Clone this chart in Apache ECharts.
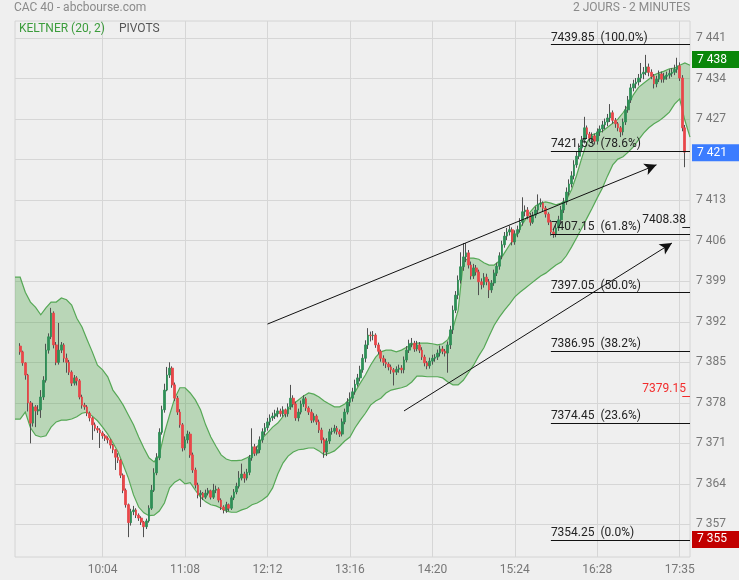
<!DOCTYPE html>
<html>
<head>
<meta charset="utf-8">
<title>CAC 40 - abcbourse.com</title>
<script src="https://cdn.jsdelivr.net/npm/echarts@6/dist/echarts.min.js"></script>
<style>
    html, body { margin: 0; padding: 0; background: #efefef; }
    #chart { width: 739px; height: 580px; }
</style>
</head>
<body>
<div id="chart"></div>
<script>
// Bougies 2 minutes de la séance, à partir de 9:00 (ouverture = clôture précédente)
const firstOpen = 7387.8;
const closes = [
    7386.8, 7384.9, 7382.8, 7378.0, 7374.5, 7377.3, 7376.6, 7376.8, 7379.0, 7381.9,
    7387.1, 7389.4, 7393.5, 7388.0, 7385.0, 7387.1, 7388.0, 7385.7, 7385.0, 7383.3,
    7381.4, 7382.3, 7381.8, 7379.0, 7377.6, 7377.3, 7376.2, 7375.4, 7374.2, 7373.6,
    7373.3, 7372.8, 7372.3, 7371.9, 7371.6, 7370.7, 7369.9, 7368.6, 7368.1, 7365.5,
    7362.9, 7360.4, 7357.3, 7359.2, 7359.5, 7358.6, 7358.1, 7357.4, 7356.6, 7357.6,
    7359.8, 7362.9, 7365.9, 7368.5, 7372.9, 7376.8, 7380.2, 7382.8, 7384.0, 7381.1,
    7378.8, 7376.4, 7374.2, 7370.2, 7371.6, 7372.6, 7369.0, 7366.4, 7363.8, 7362.1,
    7362.4, 7361.7, 7362.4, 7362.8, 7361.7, 7362.9, 7363.1, 7361.2, 7360.0, 7359.5,
    7360.4, 7359.8, 7361.6, 7362.6, 7363.6, 7365.0, 7365.7, 7365.0, 7366.0, 7368.5,
    7370.4, 7369.3, 7369.9, 7371.6, 7373.0, 7373.7, 7374.7, 7375.4, 7375.7, 7376.1,
    7376.6, 7376.1, 7376.8, 7376.1, 7377.3, 7378.8, 7377.8, 7375.4, 7376.4, 7377.8,
    7378.7, 7377.1, 7376.4, 7375.0, 7375.7, 7374.7, 7373.3, 7371.6, 7369.5, 7371.4,
    7373.0, 7373.1, 7373.6, 7373.0, 7372.6, 7374.7, 7376.4, 7378.1, 7378.8, 7379.9,
    7381.2, 7382.3, 7383.7, 7385.7, 7388.0, 7389.7, 7389.6, 7389.7, 7388.0, 7386.9,
    7385.7, 7385.0, 7384.7, 7384.2, 7383.7, 7383.3, 7383.8, 7384.0, 7383.7, 7385.4,
    7387.1, 7388.2, 7388.3, 7387.3, 7388.0, 7387.1, 7385.9, 7384.9, 7384.4, 7385.2,
    7385.7, 7385.9, 7386.6, 7387.3, 7386.9, 7386.6, 7388.0, 7390.6, 7394.0, 7396.6,
    7399.2, 7401.5, 7403.2, 7403.9, 7401.8, 7399.9, 7401.3, 7400.6, 7398.9, 7398.4,
    7399.7, 7398.9, 7397.5, 7398.7, 7400.4, 7401.6, 7403.4, 7405.3, 7406.8, 7407.5,
    7407.9, 7405.8, 7407.2, 7407.9, 7409.2, 7411.0, 7411.3, 7410.3, 7409.2, 7410.4,
    7411.3, 7412.3, 7412.5, 7411.6, 7410.6, 7409.2, 7407.5, 7407.2, 7408.2, 7409.6,
    7411.3, 7412.7, 7414.4, 7415.8, 7417.2, 7419.1, 7420.6, 7422.0, 7423.4, 7425.5,
    7424.4, 7423.7, 7424.1, 7423.2, 7424.8, 7425.3, 7426.0, 7426.5, 7427.2, 7428.1,
    7426.8, 7426.2, 7425.5, 7424.8, 7426.5, 7428.6, 7430.3, 7432.4, 7433.1, 7433.4,
    7434.1, 7434.8, 7435.1, 7436.0, 7435.1, 7434.4, 7433.1, 7433.9, 7434.8, 7433.9,
    7434.4, 7434.6, 7434.9, 7435.1, 7435.6, 7436.2, 7434.1, 7425.5, 7421.3
];
const highs = [
    7388.3, 7387.0, 7385.0, 7383.0, 7378.3, 7378.0, 7377.6, 7377.6, 7380.2, 7382.6,
    7388.2, 7390.0, 7394.4, 7393.8, 7388.5, 7391.8, 7388.5, 7388.3, 7386.5, 7385.4,
    7383.6, 7382.8, 7382.6, 7382.1, 7379.4, 7378.0, 7377.6, 7376.5, 7375.6, 7374.6,
    7374.0, 7373.6, 7373.1, 7372.6, 7372.2, 7371.8, 7370.9, 7370.0, 7369.3, 7368.3,
    7365.8, 7363.2, 7360.6, 7359.7, 7360.2, 7359.8, 7358.9, 7358.4, 7357.6, 7358.0,
    7360.3, 7363.8, 7366.7, 7369.3, 7373.6, 7377.5, 7381.3, 7384.2, 7385.0, 7384.3,
    7381.5, 7379.2, 7376.9, 7374.5, 7372.2, 7373.2, 7373.0, 7369.4, 7366.8, 7364.2,
    7362.9, 7362.6, 7363.0, 7363.3, 7363.0, 7364.0, 7363.7, 7363.4, 7361.5, 7360.3,
    7360.9, 7360.6, 7362.0, 7363.1, 7364.2, 7366.2, 7367.5, 7366.1, 7366.6, 7369.0,
    7373.6, 7370.9, 7370.5, 7372.2, 7373.6, 7374.5, 7375.4, 7376.0, 7376.3, 7376.8,
    7377.2, 7377.0, 7377.4, 7377.0, 7377.9, 7381.1, 7379.3, 7378.2, 7377.0, 7378.4,
    7379.3, 7379.0, 7377.4, 7376.9, 7376.2, 7376.0, 7375.1, 7373.7, 7372.0, 7371.9,
    7373.5, 7373.7, 7374.2, 7374.0, 7373.4, 7375.3, 7377.0, 7378.8, 7379.8, 7380.6,
    7382.0, 7383.0, 7384.4, 7386.4, 7388.8, 7390.9, 7390.3, 7390.4, 7390.0, 7388.4,
    7387.2, 7386.2, 7385.6, 7385.0, 7384.6, 7384.0, 7384.3, 7384.6, 7384.5, 7386.0,
    7387.8, 7388.9, 7389.2, 7388.7, 7388.7, 7388.5, 7387.6, 7386.3, 7385.2, 7385.8,
    7386.3, 7386.4, 7387.2, 7387.9, 7387.8, 7387.3, 7388.6, 7391.3, 7394.8, 7397.3,
    7400.0, 7404.0, 7405.6, 7405.6, 7404.4, 7402.4, 7402.0, 7401.8, 7401.0, 7399.5,
    7400.4, 7400.3, 7399.4, 7399.2, 7401.0, 7402.2, 7404.0, 7406.0, 7407.5, 7408.2,
    7408.6, 7408.3, 7407.8, 7408.6, 7409.9, 7413.5, 7412.1, 7411.8, 7410.8, 7411.0,
    7411.9, 7414.0, 7413.3, 7412.8, 7412.0, 7410.9, 7409.6, 7408.0, 7408.8, 7410.3,
    7412.0, 7413.4, 7415.2, 7416.6, 7418.0, 7419.9, 7421.4, 7422.8, 7424.1, 7427.4,
    7425.9, 7424.8, 7424.7, 7424.5, 7425.4, 7425.9, 7426.7, 7427.1, 7427.9, 7429.6,
    7428.5, 7427.2, 7426.5, 7425.8, 7427.1, 7429.3, 7431.0, 7433.1, 7433.8, 7434.1,
    7434.8, 7436.7, 7436.0, 7438.1, 7436.6, 7435.6, 7434.8, 7434.5, 7435.4, 7435.2,
    7435.0, 7435.2, 7435.6, 7435.8, 7436.4, 7437.6, 7436.8, 7434.6, 7426.0
];
const lows = [
    7386.3, 7384.4, 7382.0, 7376.5, 7371.0, 7373.9, 7373.8, 7375.9, 7375.4, 7378.5,
    7381.5, 7386.5, 7389.0, 7387.4, 7384.5, 7384.6, 7386.6, 7385.0, 7383.2, 7382.8,
    7380.9, 7381.0, 7381.0, 7378.6, 7377.0, 7376.8, 7375.7, 7374.8, 7371.6, 7373.1,
    7372.8, 7370.2, 7371.8, 7371.4, 7371.0, 7370.1, 7369.3, 7366.4, 7367.6, 7365.0,
    7362.4, 7359.9, 7354.8, 7356.8, 7358.6, 7358.1, 7357.6, 7356.9, 7354.8, 7356.2,
    7357.3, 7359.5, 7362.6, 7365.5, 7368.1, 7372.5, 7376.3, 7380.0, 7382.3, 7380.6,
    7378.3, 7375.9, 7373.7, 7369.6, 7369.8, 7371.0, 7368.5, 7365.9, 7363.2, 7361.5,
    7360.0, 7361.2, 7361.4, 7362.0, 7361.3, 7361.4, 7362.4, 7360.8, 7359.5, 7358.9,
    7359.0, 7359.3, 7359.5, 7361.2, 7362.2, 7363.2, 7364.6, 7364.2, 7364.6, 7365.5,
    7368.0, 7368.8, 7368.9, 7369.3, 7371.1, 7372.4, 7373.2, 7374.1, 7374.9, 7375.2,
    7375.5, 7375.6, 7375.6, 7375.5, 7375.6, 7376.8, 7377.2, 7374.9, 7374.8, 7376.0,
    7377.3, 7376.6, 7375.9, 7374.5, 7374.6, 7374.2, 7372.8, 7371.0, 7368.5, 7368.8,
    7370.9, 7372.5, 7372.7, 7372.5, 7372.1, 7372.2, 7374.3, 7376.0, 7377.4, 7378.2,
    7379.4, 7380.8, 7381.7, 7383.2, 7385.0, 7387.3, 7388.6, 7388.8, 7387.5, 7386.4,
    7385.1, 7384.4, 7384.0, 7383.6, 7383.0, 7381.0, 7382.8, 7383.2, 7383.1, 7383.1,
    7385.0, 7386.6, 7387.6, 7386.8, 7386.9, 7386.6, 7385.4, 7384.3, 7383.8, 7383.9,
    7384.6, 7385.1, 7385.4, 7386.0, 7386.4, 7386.0, 7383.2, 7387.3, 7389.9, 7393.5,
    7395.9, 7398.6, 7400.8, 7402.3, 7401.2, 7399.3, 7399.4, 7400.0, 7396.6, 7397.6,
    7397.9, 7398.3, 7396.1, 7397.0, 7398.2, 7399.9, 7401.0, 7402.8, 7404.8, 7406.1,
    7406.9, 7405.2, 7405.3, 7406.6, 7407.4, 7408.6, 7410.2, 7409.7, 7408.6, 7408.9,
    7409.9, 7410.7, 7411.8, 7411.0, 7410.0, 7408.7, 7406.9, 7406.5, 7406.6, 7407.7,
    7409.0, 7410.8, 7412.2, 7413.8, 7415.2, 7416.6, 7418.6, 7420.1, 7421.3, 7422.8,
    7423.6, 7423.0, 7423.0, 7422.6, 7422.6, 7424.1, 7424.7, 7425.3, 7425.8, 7426.5,
    7426.2, 7425.5, 7424.9, 7423.9, 7424.2, 7426.0, 7428.1, 7429.8, 7431.8, 7432.3,
    7432.8, 7433.4, 7433.9, 7434.6, 7434.4, 7433.9, 7432.3, 7432.5, 7433.4, 7433.3,
    7433.3, 7433.8, 7434.0, 7434.3, 7434.6, 7435.0, 7433.6, 7424.9, 7418.7
];

// Bande de Keltner (20, 2) : un point toutes les 2 bougies, à partir de la bougie -2
const bandFirstBar = -2;
const bandStep = 2;
const bandUpper = [
    7399.7, 7399.7, 7397.1, 7395.4, 7394.5, 7393.2, 7394.4, 7395.4, 7395.4, 7396.1,
    7395.8, 7394.9, 7392.6, 7391.1, 7388.9, 7386.8, 7384.5, 7383.7, 7382.5, 7380.2,
    7379.0, 7377.6, 7375.9, 7374.2, 7372.1, 7370.2, 7368.5, 7367.8, 7369.0, 7372.8,
    7375.9, 7378.8, 7380.6, 7380.6, 7379.7, 7378.5, 7376.8, 7374.2, 7372.1, 7370.5,
    7369.0, 7368.3, 7368.0, 7368.0, 7368.1, 7368.5, 7369.0, 7370.4, 7371.9, 7372.8,
    7373.8, 7374.5, 7375.6, 7376.8, 7377.8, 7378.5, 7379.2, 7379.7, 7379.5, 7379.0,
    7378.3, 7377.8, 7377.3, 7377.3, 7377.8, 7378.7, 7379.9, 7381.4, 7382.8, 7384.5,
    7385.9, 7386.8, 7387.1, 7387.1, 7386.8, 7387.1, 7387.6, 7388.0, 7388.3, 7388.3,
    7388.3, 7388.2, 7388.0, 7388.2, 7388.9, 7390.9, 7394.0, 7402.3, 7403.0, 7403.0,
    7402.8, 7402.2, 7401.8, 7401.8, 7402.5, 7403.9, 7405.3, 7406.5, 7408.2, 7409.6,
    7411.0, 7412.0, 7412.5, 7412.7, 7412.5, 7412.2, 7412.5, 7413.0, 7414.8, 7417.3,
    7420.3, 7423.0, 7424.3, 7424.6, 7424.9, 7425.6, 7426.3, 7427.0, 7428.1, 7429.4,
    7431.2, 7432.5, 7433.2, 7433.9, 7434.6, 7435.0, 7435.3, 7435.7, 7435.8, 7436.3,
    7436.7, 7436.3
];
const bandLower = [
    7375.2, 7375.2, 7376.4, 7373.7, 7372.4, 7372.1, 7372.3, 7373.8, 7374.7, 7375.0,
    7375.0, 7375.2, 7375.6, 7376.2, 7376.4, 7375.7, 7374.9, 7373.8, 7372.6, 7371.1,
    7369.5, 7367.3, 7365.0, 7362.1, 7360.0, 7359.0, 7358.5, 7358.6, 7359.3, 7360.7,
    7363.3, 7364.3, 7364.8, 7364.0, 7364.2, 7362.9, 7361.7, 7360.9, 7360.4, 7360.2,
    7359.8, 7359.3, 7359.1, 7359.1, 7359.5, 7359.8, 7360.4, 7360.7, 7361.2, 7361.9,
    7363.3, 7365.7, 7367.6, 7368.8, 7369.5, 7369.9, 7370.0, 7370.2, 7370.2, 7369.7,
    7369.0, 7369.3, 7369.7, 7370.5, 7371.4, 7372.1, 7373.7, 7375.0, 7376.2, 7377.6,
    7378.3, 7378.8, 7379.7, 7380.2, 7380.4, 7380.6, 7380.9, 7381.6, 7382.6, 7382.6,
    7382.5, 7382.5, 7382.5, 7382.3, 7381.6, 7381.1, 7381.1, 7381.9, 7383.2, 7384.5,
    7386.1, 7387.5, 7389.5, 7391.4, 7392.8, 7394.0, 7395.1, 7396.3, 7397.1, 7397.8,
    7398.5, 7399.2, 7399.9, 7400.4, 7401.1, 7401.8, 7402.3, 7403.4, 7404.9, 7406.5,
    7408.2, 7409.9, 7411.6, 7413.4, 7415.1, 7417.2, 7419.1, 7420.1, 7420.5, 7421.3,
    7422.2, 7423.4, 7424.6, 7425.5, 7426.2, 7426.7, 7427.4, 7428.2, 7429.6, 7430.5,
    7426.8, 7423.9
];

// Axe des temps : repères toutes les 32 bougies
const tickBars = [32, 64, 96, 128, 160, 192, 224, 256];
const tickLabels = ['10:04', '11:08', '12:12', '13:16', '14:20', '15:24', '16:28', '17:35'];

// Axe des prix
const yTicks = [7357, 7364, 7371, 7378, 7385, 7392, 7399, 7406, 7413, 7420, 7427, 7434, 7441];
const yLabelTicks = [7357, 7364, 7371, 7378, 7385, 7392, 7399, 7406, 7413, 7427, 7434, 7441];

// Pivots (retracements de Fibonacci)
const fibLevels = [7439.85, 7421.53, 7407.15, 7397.05, 7386.95, 7374.45, 7354.25];
const fibPercents = ['100.0%', '78.6%', '61.8%', '50.0%', '38.2%', '23.6%', '0.0%'];
const fibStartBar = 206;

// Repères de prix à droite du graphique
const markValues = [7408.38, 7379.15];
const markColors = ['#222222', '#f22c2c'];

// Étiquettes plus haut / dernier / plus bas
const tagValues = [7437.3, 7421.2, 7354.4];
const tagLabels = ['7 438', '7 421', '7 355'];
const tagColors = ['#0a870a', '#3b7cff', '#c20000'];

// Flèches tracées sur le graphique : [bougie, prix] -> [bougie, prix]
const arrows = [
    [[96.2, 7391.6], [247.0, 7419.1]],
    [[149.0, 7376.6], [252.8, 7405.6]]
];

const PAD = 2;
const UP = '#2f8f57';
const DOWN = '#e8474a';

const nCat = PAD + closes.length + 2;
const categories = [];
for (let j = 0; j < nCat; j++) {
    const m = 9 * 60 + (j - PAD) * 2;
    categories.push(String(Math.floor(m / 60)).padStart(2, '0') + ':' + String(((m % 60) + 60) % 60).padStart(2, '0'));
}
const tickIndex = {};
tickBars.forEach((b, i) => { tickIndex[b + PAD] = tickLabels[i]; });

const wicks = [];
const bodies = [];
closes.forEach((c, k) => {
    const o = k === 0 ? firstOpen : closes[k - 1];
    wicks.push([k + PAD, o, c, Math.min(lows[k], o, c), Math.max(highs[k], o, c)]);
    bodies.push([k + PAD, o, c, Math.min(o, c), Math.max(o, c)]);
});

const font = 'Roboto';
const chart = echarts.init(document.getElementById('chart'));

const option = {
    animation: false,
    backgroundColor: '#efefef',
    textStyle: { fontFamily: font },
    title: [
        {
            text: 'CAC 40 - abcbourse.com', left: 14, top: 2, padding: 0,
            textStyle: { fontSize: 12, fontWeight: 'normal', color: '#8a8a8a', fontFamily: font }
        },
        {
            text: '2 JOURS - 2 MINUTES', right: 49, top: 2, padding: 0,
            textStyle: { fontSize: 12, fontWeight: 'normal', color: '#8a8a8a', fontFamily: font }
        }
    ],
    legend: {
        left: 14, top: 22, padding: 0, icon: 'none', itemWidth: 0, itemHeight: 14, itemGap: 9,
        selectedMode: false,
        textStyle: { fontSize: 12, fontFamily: font },
        data: [
            { name: 'KELTNER (20, 2)', textStyle: { color: '#3c9c3c' } },
            { name: 'PIVOTS', textStyle: { color: '#555555' } }
        ]
    },
    grid: {
        left: 15, right: 49, top: 21, bottom: 23,
        show: true, borderColor: '#d4d4d4', borderWidth: 1
    },
    xAxis: {
        type: 'category',
        data: categories,
        boundaryGap: false,
        axisLine: { show: false },
        axisTick: { show: false },
        axisLabel: {
            interval: (i) => tickIndex[i] !== undefined,
            formatter: (v, i) => tickIndex[i] || '',
            color: '#777', fontSize: 12, margin: 7, fontFamily: font
        },
        splitLine: {
            show: true,
            interval: (i) => tickIndex[i] !== undefined,
            lineStyle: { color: '#d6d6d6', width: 1 }
        }
    },
    yAxis: {
        type: 'value',
        position: 'right',
        min: 7351.37,
        max: 7443.95,
        axisLine: { show: false },
        axisTick: { show: false, customValues: yTicks },
        axisLabel: {
            customValues: yLabelTicks,
            formatter: (v) => { const s = String(Math.round(v)); return s.slice(0, 1) + ' ' + s.slice(1); },
            color: '#777', fontSize: 12, margin: 6, fontFamily: font,
            padding: [0, 0, 4, 0]
        },
        splitLine: { show: true, customValues: yTicks, lineStyle: { color: '#d6d6d6', width: 1 } }
    },
    series: [
        {
            name: 'mèches',
            type: 'candlestick',
            data: wicks,
            encode: { x: 0, y: [1, 2, 3, 4] },
            barWidth: 1,
            silent: true,
            itemStyle: {
                color: '#505050', color0: '#505050',
                borderColor: '#505050', borderColor0: '#505050', borderWidth: 1
            }
        },
        {
            name: 'CAC 40',
            type: 'candlestick',
            data: bodies,
            encode: { x: 0, y: [1, 2, 3, 4] },
            barWidth: 2.2,
            silent: true,
            itemStyle: {
                color: UP, color0: DOWN,
                borderColor: UP, borderColor0: DOWN, borderWidth: 0.8
            }
        },
        {
            name: 'KELTNER (20, 2)',
            type: 'custom',
            silent: true,
            data: [[PAD, bandUpper[0]]],
            renderItem: function (params, api) {
                const up = [];
                const lo = [];
                for (let i = 0; i < bandUpper.length; i++) {
                    const j = bandFirstBar + i * bandStep + PAD;
                    up.push(api.coord([j, bandUpper[i]]));
                    lo.push(api.coord([j, bandLower[i]]));
                }
                return {
                    type: 'group',
                    children: [
                        {
                            type: 'polygon',
                            shape: { points: up.concat(lo.slice().reverse()) },
                            style: { fill: 'rgba(60,155,53,0.3)' }
                        },
                        {
                            type: 'polyline',
                            shape: { points: up },
                            style: { stroke: '#56a856', lineWidth: 1.2, fill: null }
                        },
                        {
                            type: 'polyline',
                            shape: { points: lo },
                            style: { stroke: '#56a856', lineWidth: 1.2, fill: null }
                        }
                    ]
                };
            }
        },
        {
            name: 'PIVOTS',
            type: 'line',
            data: [],
            symbol: 'none',
            markLine: {
                silent: true,
                symbol: ['none', 'none'],
                lineStyle: { color: '#111', width: 1, type: 'solid' },
                label: {
                    show: true, position: 'insideStartTop', distance: [0, 1],
                    color: '#222', fontSize: 12, fontFamily: font
                },
                data: fibLevels.map((v, i) => [
                    { coord: [fibStartBar + PAD, v], label: { formatter: v.toFixed(2) + '  (' + fibPercents[i] + ')' } },
                    { coord: [nCat - 1, v] }
                ]).concat(markValues.map((v, i) => [
                    {
                        coord: [nCat - 4, v],
                        lineStyle: { color: markColors[i] },
                        label: { position: 'insideEndTop', distance: [4, 1], color: markColors[i], formatter: v.toFixed(2) }
                    },
                    { coord: [nCat - 1, v] }
                ]))
            }
        },
        {
            name: 'flèches',
            type: 'line',
            data: [],
            symbol: 'none',
            markLine: {
                silent: true,
                symbol: ['none', 'arrow'],
                symbolSize: [9, 12],
                lineStyle: { color: '#111', width: 1, type: 'solid' },
                label: { show: false },
                data: arrows.map((a) => [
                    { coord: [a[0][0] + PAD, a[0][1]] },
                    { coord: [a[1][0] + PAD, a[1][1]] }
                ])
            }
        },
        {
            name: 'repères',
            type: 'line',
            data: [],
            symbol: 'none',
            markLine: {
                silent: true,
                symbol: ['none', 'none'],
                lineStyle: { color: 'rgba(0,0,0,0)', width: 0, type: 'solid' },
                label: { show: true },
                data: tagValues.map((v, i) => [
                    {
                        coord: [0, v],
                        label: {
                            show: true, position: 'end', distance: 2,
                            formatter: tagLabels[i],
                            backgroundColor: tagColors[i],
                            color: '#fff', fontSize: 12, fontFamily: font,
                            padding: [2, 4, 1, 5], width: 38, lineHeight: 14
                        }
                    },
                    { coord: [nCat - 1, v] }
                ])
            }
        }
    ]
};

chart.setOption(option);
</script>
</body>
</html>
